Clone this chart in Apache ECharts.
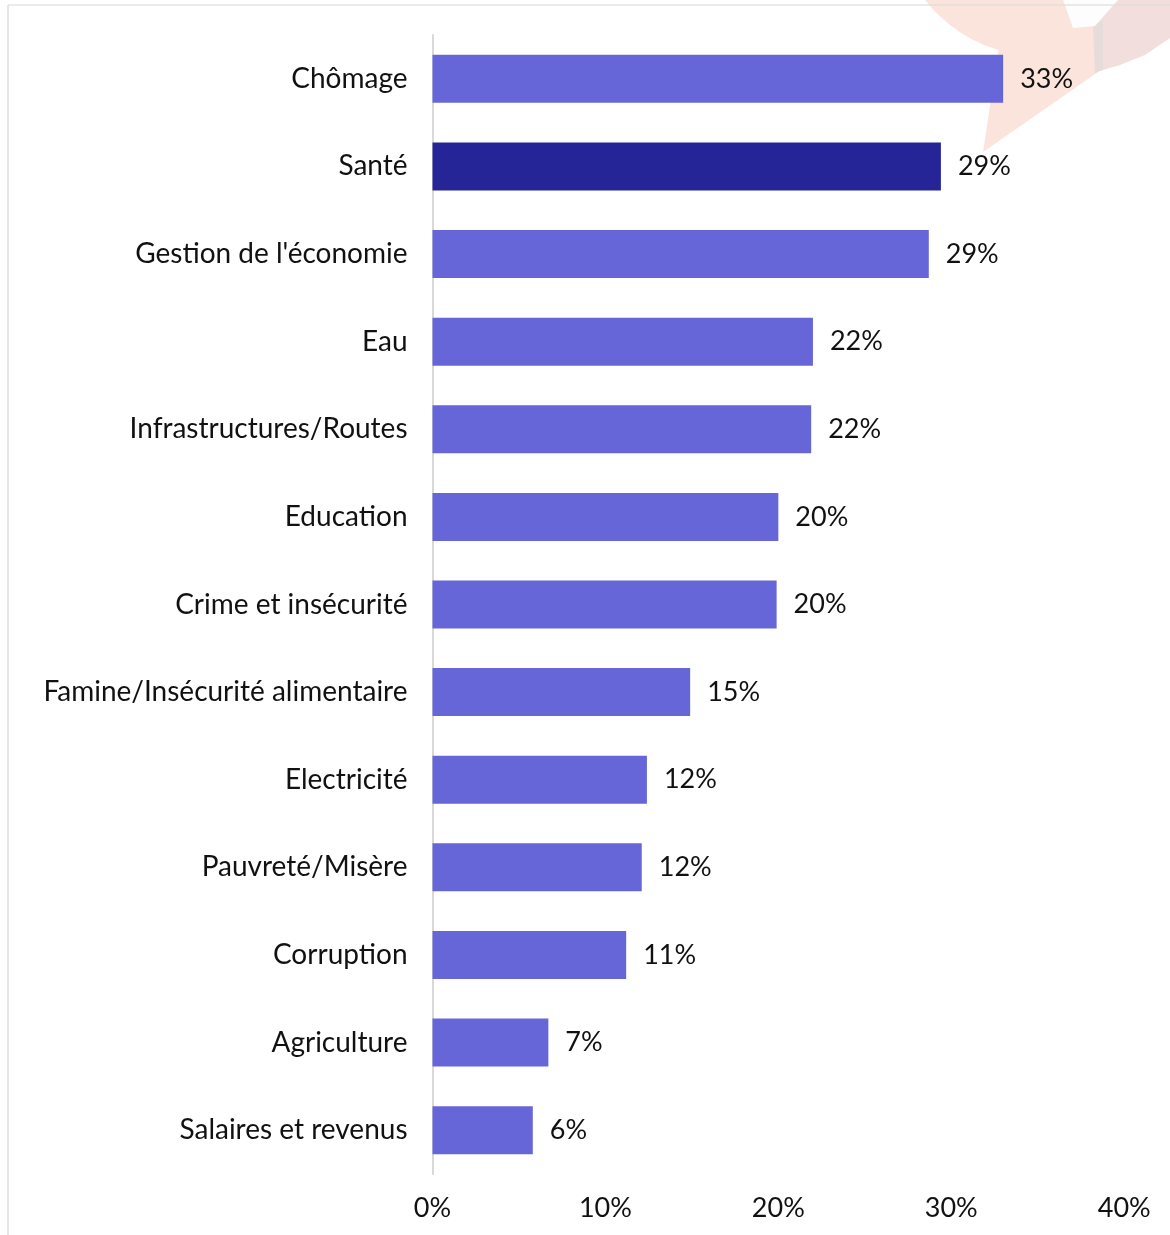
<!DOCTYPE html>
<html>
<head>
<meta charset="utf-8">
<script src="https://cdn.jsdelivr.net/npm/echarts@6/dist/echarts.min.js"></script>
<style>
  html, body { margin: 0; padding: 0; background: #ffffff; }
  #chart { width: 1170px; height: 1235px; }
</style>
</head>
<body>
<div id="chart"></div>
<script>
// Problèmes les plus importants (% des réponses)
const categories = [
  'Chômage',
  'Santé',
  "Gestion de l'économie",
  'Eau',
  'Infrastructures/Routes',
  'Education',
  'Crime et insécurité',
  'Famine/Insécurité alimentaire',
  'Electricité',
  'Pauvreté/Misère',
  'Corruption',
  'Agriculture',
  'Salaires et revenus'
];
const values = [33.0, 29.4, 28.7, 22.0, 21.9, 20.0, 19.9, 14.9, 12.4, 12.1, 11.2, 6.7, 5.8];
const highlighted = 'Santé';
const axisTicks = [0, 10, 20, 30, 40];

const FONT = 'Lato';
const CAT_SIZE = 28;
const NUM_SIZE = 27;
const TEXT = '#111111';
const BAR = '#6766d9';
const BAR_HI = '#262598';

const chart = echarts.init(document.getElementById('chart'), null, { renderer: 'canvas' });

chart.setOption({
  backgroundColor: '#ffffff',
  animation: false,
  textStyle: { fontFamily: FONT },
  grid: { left: 432.5, right: 45.8, top: 35, bottom: 61, containLabel: false },
  xAxis: {
    type: 'value',
    min: axisTicks[0],
    max: axisTicks[axisTicks.length - 1],
    interval: axisTicks[1] - axisTicks[0],
    axisLine: { show: false },
    axisTick: { show: false },
    splitLine: { show: false },
    axisLabel: {
      formatter: '{value}%',
      color: TEXT,
      fontFamily: FONT,
      fontSize: NUM_SIZE,
      margin: 21
    }
  },
  yAxis: {
    type: 'category',
    inverse: true,
    data: categories,
    axisLine: { show: true, lineStyle: { color: '#d9d9d9', width: 2 } },
    axisTick: { show: false },
    axisLabel: {
      color: TEXT,
      fontFamily: FONT,
      fontSize: CAT_SIZE,
      margin: 25
    }
  },
  series: [{
    type: 'bar',
    data: values.map((v, i) => ({
      value: v,
      itemStyle: { color: categories[i] === highlighted ? BAR_HI : BAR }
    })),
    barWidth: 48,
    z: 5,
    label: {
      show: true,
      position: 'right',
      distance: 17,
      color: TEXT,
      fontFamily: FONT,
      fontSize: NUM_SIZE,
      formatter: p => Math.round(p.value) + '%'
    }
  }],
  graphic: [
    // decorative emblem in the top-right corner
    { type: 'circle', z: -10, shape: { cx: 1040, cy: -90, r: 146 }, style: { fill: '#fbe4dc' } },
    { type: 'polygon', z: -10, shape: { points: [[1000, 40], [983, 152], [1098, 72], [1098, 40]] }, style: { fill: '#fbe4dc' } },
    { type: 'polygon', z: -9, shape: { points: [[1095, 0], [1170, 0], [1170, 38], [1145, 55], [1120, 65], [1103, 70], [1095, 72]] }, style: { fill: '#f2dfdd' } },
    { type: 'polygon', z: -8, shape: { points: [[1093, 25], [1103, 20], [1103, 70], [1095, 73]] }, style: { fill: '#e6dcda' } },
    { type: 'polygon', z: -8, shape: { points: [[1063, 0], [1073, 28], [1095, 26], [1118, 0]] }, style: { fill: '#fdfdfd' } },
    // frame lines
    { type: 'line', z: -5, shape: { x1: 8, y1: 5, x2: 1170, y2: 5 }, style: { stroke: '#dedede', lineWidth: 1.5, opacity: 0.8 } },
    { type: 'line', z: -5, shape: { x1: 8, y1: 5, x2: 8, y2: 1235 }, style: { stroke: '#dedede', lineWidth: 1.5 } }
  ]
});
</script>
</body>
</html>
